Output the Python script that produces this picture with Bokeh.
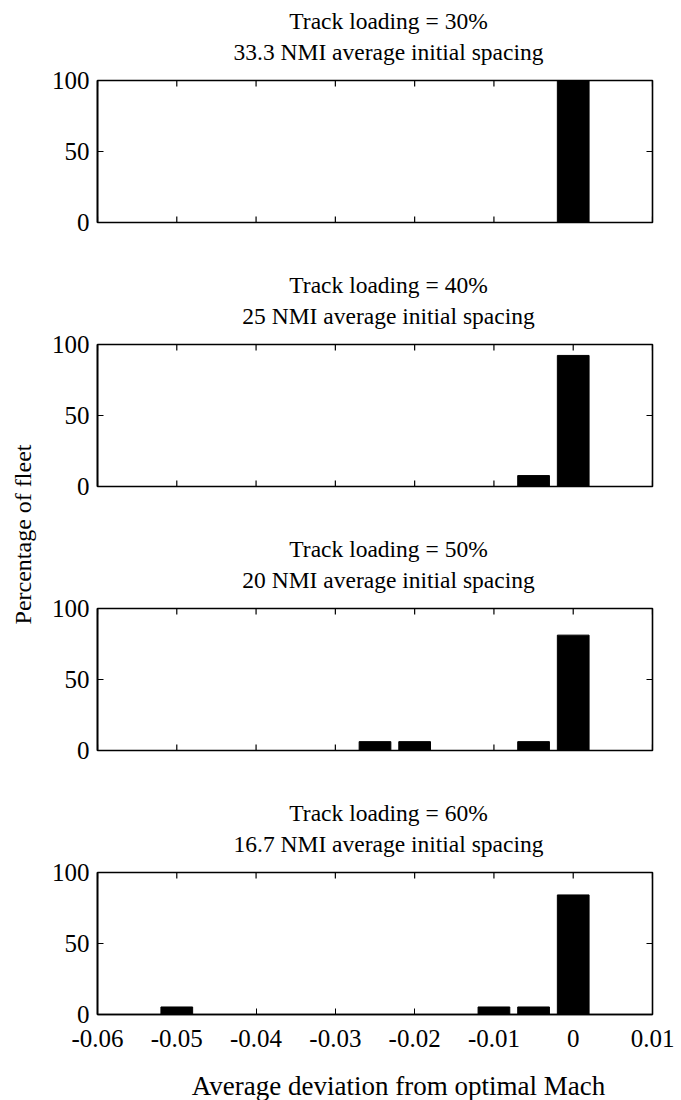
from bokeh.plotting import figure
from bokeh.layouts import row, column
from bokeh.models import FixedTicker, Range1d
from bokeh.core.properties import value
from bokeh.embed import file_html
from bokeh.resources import INLINE
import math

bins = [-0.055, -0.05, -0.045, -0.04, -0.035, -0.03, -0.025, -0.02, -0.015, -0.01, -0.005, 0.0]
p30 = [0, 0, 0, 0, 0, 0, 0, 0, 0, 0, 0, 100]
p40 = [0, 0, 0, 0, 0, 0, 0, 0, 0, 0, 7.7, 92.3]
p50 = [0, 0, 0, 0, 0, 0, 6.25, 6.25, 0, 0, 6.25, 81.25]
p60 = [0, 5.3, 0, 0, 0, 0, 0, 0, 0, 5.3, 5.3, 84.2]
series = [p30, p40, p50, p60]
titles1 = ["Track loading = 30%", "Track loading = 40%", "Track loading = 50%", "Track loading = 60%"]
titles2 = ["33.3 NMI average initial spacing", "25 NMI average initial spacing",
           "20 NMI average initial spacing", "16.7 NMI average initial spacing"]
xticks = [-0.06, -0.05, -0.04, -0.03, -0.02, -0.01, 0.0, 0.01]
xlabels = ["-0.06", "-0.05", "-0.04", "-0.03", "-0.02", "-0.01", "0", "0.01"]
yticks = [0, 50, 100]
ylabels = ["0", "50", "100"]
xlabel = "Average deviation from optimal Mach"
ylabel = "Percentage of fleet"

FONT = "Liberation Serif"
XMIN, XMAX = -0.06, 0.01
YMIN, YMAX = 0, 100
LW = 48
FW = 681 - LW
BL, BR = 49, 29
FRAME_W = FW - BL - BR
FRAME_H = 142
TITLE_H = 68
PLOT_TOP = 12
PLOT_BOT = 42
LAST_BOT = 48
XLAB_H = 38
TICK = 6
xpp = (XMAX - XMIN) / FRAME_W
TITLE_X = XMIN + 291 * xpp
XLAB_X = XMIN + 301 * xpp
BASE_FIX = 8


def text_fig(h):
    f = figure(width=FW, height=h, output_backend="svg", toolbar_location=None, title=None,
               x_range=Range1d(XMIN, XMAX), y_range=Range1d(0, h),
               min_border_left=BL, min_border_right=BR, min_border_top=0, min_border_bottom=0,
               x_axis_location=None, y_axis_location=None)
    f.outline_line_color = None
    f.xgrid.visible = False
    f.ygrid.visible = False
    return f


def style_axis(ax, ticks, labels, standoff):
    ax.ticker = FixedTicker(ticks=ticks)
    ax.major_label_overrides = dict(zip(ticks, labels))
    ax.minor_tick_line_color = None
    ax.major_tick_in = TICK
    ax.major_tick_out = 0
    ax.axis_line_width = 1.6
    ax.axis_line_color = "black"
    ax.major_tick_line_color = "black"
    ax.major_label_text_font = FONT
    ax.major_label_text_font_size = "25px"
    ax.major_label_text_color = "black"
    ax.major_label_standoff = standoff


items = []
for i, vals in enumerate(series):
    last = i == len(series) - 1
    # title block
    t = text_fig(TITLE_H)
    t.text(x=[TITLE_X, TITLE_X],
           y=[52 - PLOT_TOP + BASE_FIX, 21 - PLOT_TOP + BASE_FIX],
           text=[titles1[i], titles2[i]],
           text_font=value(FONT), text_font_size="23.5px", text_align="center",
           text_baseline="alphabetic", text_color="black")
    items.append(t)

    bot = LAST_BOT if last else PLOT_BOT
    h = PLOT_TOP + FRAME_H + bot
    p = figure(width=FW, height=h, output_backend="svg", toolbar_location=None, title=None,
               x_range=Range1d(XMIN, XMAX), y_range=Range1d(YMIN, YMAX),
               min_border_left=BL, min_border_right=BR, min_border_top=PLOT_TOP,
               min_border_bottom=bot)
    p.vbar(x=bins, top=vals, bottom=0, width=0.004, fill_color="black", line_color="black", line_width=1)
    p.xgrid.visible = False
    p.ygrid.visible = False
    p.outline_line_color = "black"
    p.outline_line_width = 1.6
    p.background_fill_color = "white"
    p.border_fill_color = "white"

    for ax in p.yaxis:
        style_axis(ax, yticks, ylabels, 8)
    if last:
        for ax in p.xaxis:
            style_axis(ax, xticks, xlabels, 15)
    else:
        p.xaxis.visible = False
        p.ray(x=xticks, y=[YMIN] * len(xticks), length=TICK, length_units="screen",
              angle=math.pi / 2, line_color="black", line_width=1.2)
    # mirrored ticks on top and right
    p.ray(x=xticks, y=[YMAX] * len(xticks), length=TICK, length_units="screen",
          angle=-math.pi / 2, line_color="black", line_width=1.2)
    p.ray(x=[XMAX] * len(yticks), y=yticks, length=TICK, length_units="screen",
          angle=math.pi, line_color="black", line_width=1.2)
    items.append(p)

xl = text_fig(XLAB_H)
xl.text(x=[XLAB_X], y=[15], text=[xlabel], text_font=value(FONT), text_font_size="27px",
        text_align="center", text_baseline="middle", text_color="black")
items.append(xl)

total_h = 3 * (TITLE_H + PLOT_TOP + FRAME_H + PLOT_BOT) + TITLE_H + PLOT_TOP + FRAME_H + LAST_BOT + XLAB_H
lab = figure(width=LW, height=total_h, output_backend="svg", toolbar_location=None, title=None,
             x_range=Range1d(0, LW), y_range=Range1d(0, total_h),
             min_border=0, x_axis_location=None, y_axis_location=None)
lab.outline_line_color = None
lab.xgrid.visible = False
lab.ygrid.visible = False
lab.text(x=[22], y=[total_h - 534], text=[ylabel], angle=math.pi / 2,
         text_font=value(FONT), text_font_size="24px", text_align="center",
         text_baseline="middle", text_color="black")

layout = row(lab, column(*items, spacing=0), spacing=0)
open("out.html", "w").write(file_html(layout, INLINE))
